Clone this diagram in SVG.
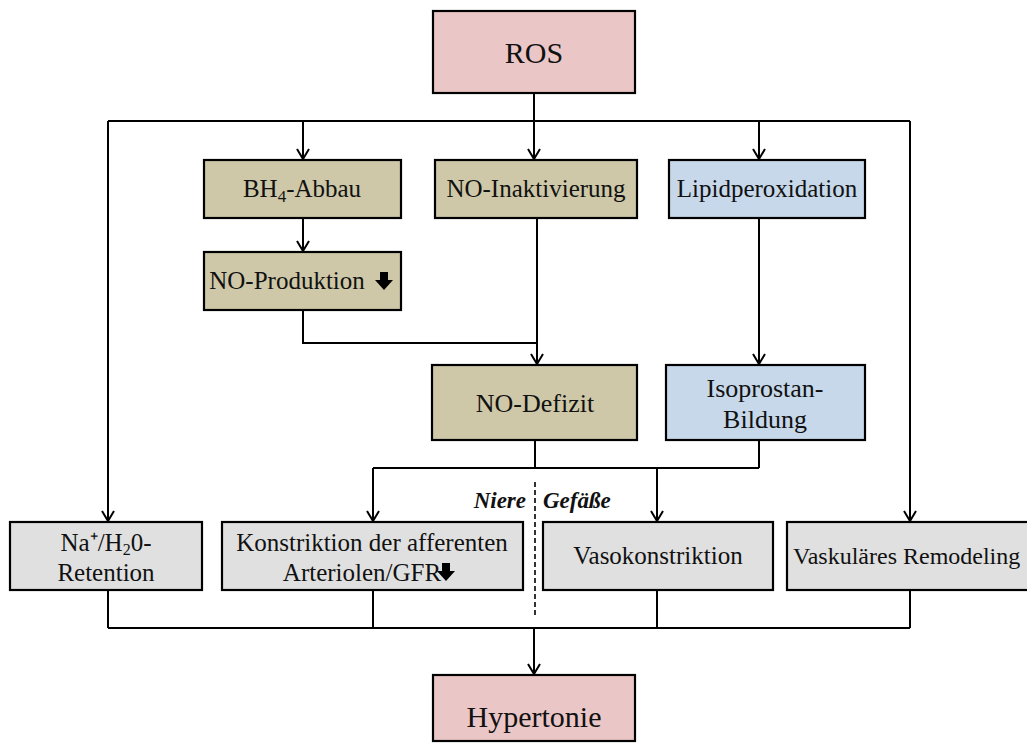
<svg xmlns="http://www.w3.org/2000/svg" width="1027" height="753" viewBox="0 0 1027 753">
<style>
.box{stroke:#000;stroke-width:2.2}
.pink{fill:#ebc6c6}.tan{fill:#cec8a8}.blue{fill:#c6d8ea}.grey{fill:#e0e0e0}
text{font-family:"Liberation Serif",serif;fill:#111;text-anchor:middle}
.big{font-size:30px}.mid{font-size:26px}.sm{font-size:25px}
.lab{font-size:23px;font-weight:bold;font-style:italic}
.c{fill:none;stroke:#000;stroke-width:2}
</style>
<defs>
<marker id="ah" viewBox="0 0 12 14" refX="11" refY="7" markerWidth="12" markerHeight="14" markerUnits="userSpaceOnUse" orient="auto">
<path d="M1,1 L11,7 L1,13" fill="none" stroke="#000" stroke-width="2"/>
</marker>
<path id="darr" d="M-4,-9 h8 v8 h5 l-9,10 l-9,-10 h5 z" fill="#000"/>
</defs>
<g id="connectors">
<path class="c" d="M534,93 V121"/>
<path class="c" d="M108,121 H910"/>
<path class="c" d="M108,121 V521" marker-end="url(#ah)"/>
<path class="c" d="M303,121 V159" marker-end="url(#ah)"/>
<path class="c" d="M534,121 V159" marker-end="url(#ah)"/>
<path class="c" d="M759,121 V159" marker-end="url(#ah)"/>
<path class="c" d="M910,121 V521" marker-end="url(#ah)"/>
<path class="c" d="M303,218 V251" marker-end="url(#ah)"/>
<path class="c" d="M303,310 V343 H537"/>
<path class="c" d="M537,218 V364" marker-end="url(#ah)"/>
<path class="c" d="M759,218 V364" marker-end="url(#ah)"/>
<path class="c" d="M535,440 V468"/>
<path class="c" d="M759,440 V468"/>
<path class="c" d="M373,468 H759"/>
<path class="c" d="M373,468 V521" marker-end="url(#ah)"/>
<path class="c" d="M657,468 V521" marker-end="url(#ah)"/>
<path class="c" d="M108,590 V628"/>
<path class="c" d="M373,590 V628"/>
<path class="c" d="M657,590 V628"/>
<path class="c" d="M910,590 V628"/>
<path class="c" d="M108,628 H910"/>
<path class="c" d="M534,628 V674" marker-end="url(#ah)"/>
<path d="M535,482 V618" fill="none" stroke="#000" stroke-width="1.6" stroke-dasharray="5,3"/>
</g>
<g id="ros"><rect class="box pink" x="433" y="11" width="202" height="82"/><text class="big" x="534" y="63">ROS</text></g>
<g id="bh4"><rect class="box tan" x="204" y="160" width="197" height="58"/><text class="sm" x="302" y="197">BH<tspan font-size="17" dy="5">4</tspan><tspan dy="-5">-Abbau</tspan></text></g>
<g id="noinakt"><rect class="box tan" x="435" y="160" width="202" height="58"/><text class="sm" x="536" y="197">NO-Inaktivierung</text></g>
<g id="lipid"><rect class="box blue" x="669" y="160" width="196" height="58"/><text class="sm" x="767" y="197">Lipidperoxidation</text></g>
<g id="noprod"><rect class="box tan" x="204" y="252" width="197" height="58"/><text class="sm" x="287" y="289">NO-Produktion</text><use href="#darr" x="384" y="281"/></g>
<g id="nodef"><rect class="box tan" x="432" y="365" width="205" height="75"/><text class="mid" x="535" y="412">NO-Defizit</text></g>
<g id="isopro"><rect class="box blue" x="666" y="365" width="199" height="75"/><text class="mid" x="765" y="397">Isoprostan-</text><text class="mid" x="765" y="428">Bildung</text></g>
<g id="labels"><text class="lab" x="526" y="508" style="text-anchor:end">Niere</text><text class="lab" x="543" y="508" style="text-anchor:start">Gefäße</text></g>
<g id="na"><rect class="box grey" x="10" y="522" width="192" height="68"/><text class="sm" x="106" y="551">Na⁺/H<tspan font-size="16" dy="4">2</tspan><tspan dy="-4">0-</tspan></text><text class="sm" x="106" y="581">Retention</text></g>
<g id="konstr"><rect class="box grey" x="222" y="522" width="301" height="68"/><text class="sm" x="372" y="551">Konstriktion der afferenten</text><text class="sm" x="362" y="581">Arteriolen/GFR</text><use href="#darr" x="446" y="572"/></g>
<g id="vaso"><rect class="box grey" x="543" y="522" width="230" height="68"/><text class="sm" x="658" y="564">Vasokonstriktion</text></g>
<g id="remod"><rect class="box grey" x="787" y="522" width="250" height="68"/><text x="793" y="564" style="text-anchor:start;font-size:24px">Vaskuläres Remodeling</text></g>
<g id="hyper"><rect class="box pink" x="433" y="675" width="202" height="66"/><text class="big" x="534" y="727">Hypertonie</text></g>
</svg>
